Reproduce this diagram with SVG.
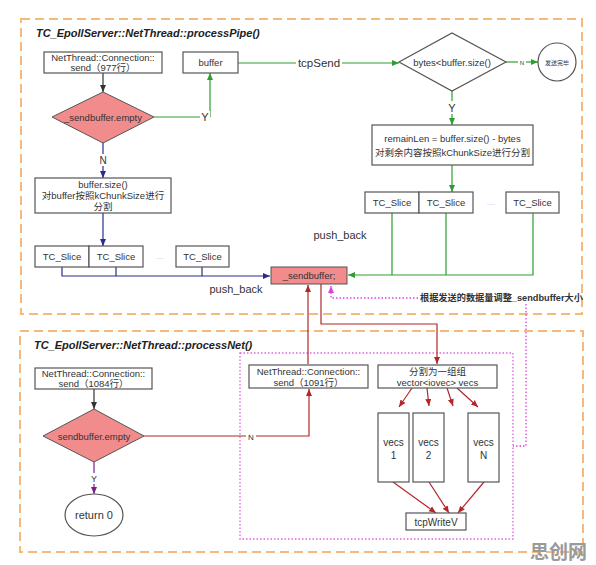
<svg xmlns="http://www.w3.org/2000/svg" width="596" height="565" viewBox="0 0 596 565">
<defs>
<style>
.bg{fill:#fff}
.frame{fill:none;stroke:#f5b97a;stroke-width:2;stroke-dasharray:9,5}
.zone{fill:none;stroke:#e060e0;stroke-width:1.3;stroke-dasharray:1.5,2}
.box{fill:#fff;stroke:#555;stroke-width:1.2}
.pink{fill:#f28c8c;stroke:#555;stroke-width:1}
.t{font-family:"Liberation Sans","Noto Sans CJK SC",sans-serif;font-size:9.5px;fill:#333;text-anchor:middle}
.title{font-family:"Liberation Sans","Noto Sans CJK SC",sans-serif;font-size:11px;font-weight:bold;font-style:italic;fill:#222}
.lbl{font-family:"Liberation Sans","Noto Sans CJK SC",sans-serif;font-size:11px;fill:#333;text-anchor:middle}
.c{fill:none;stroke-width:1.2}
.g{stroke:#2f9e2f}
.n{stroke:#2b2b8c}
.k{stroke:#333}
.r{stroke:#b3262b}
.p{stroke:#7a1f8a}
.m{stroke:#e040e0;stroke-width:1.3;stroke-dasharray:1.5,2}
</style>
<marker id="ag" markerWidth="8" markerHeight="8" refX="7" refY="4" orient="auto" markerUnits="userSpaceOnUse"><path d="M0,1 L7,4 L0,7 Z" fill="#2f9e2f"/></marker>
<marker id="an" markerWidth="8" markerHeight="8" refX="7" refY="4" orient="auto" markerUnits="userSpaceOnUse"><path d="M0,1 L7,4 L0,7 Z" fill="#2b2b8c"/></marker>
<marker id="ak" markerWidth="8" markerHeight="8" refX="7" refY="4" orient="auto" markerUnits="userSpaceOnUse"><path d="M0,1 L7,4 L0,7 Z" fill="#333"/></marker>
<marker id="ar" markerWidth="8" markerHeight="8" refX="7" refY="4" orient="auto" markerUnits="userSpaceOnUse"><path d="M0,1 L7,4 L0,7 Z" fill="#b3262b"/></marker>
<marker id="ap" markerWidth="8" markerHeight="8" refX="7" refY="4" orient="auto" markerUnits="userSpaceOnUse"><path d="M0,1 L7,4 L0,7 Z" fill="#7a1f8a"/></marker>
<marker id="am" markerWidth="8" markerHeight="8" refX="7" refY="4" orient="auto" markerUnits="userSpaceOnUse"><path d="M0,1 L7,4 L0,7 Z" fill="#e040e0"/></marker>
</defs>
<rect class="bg" x="0" y="0" width="596" height="565"/>

<g id="frame-pipe">
<rect class="frame" x="21" y="19" width="561" height="295"/>
<text class="title" x="36" y="37">TC_EpollServer::NetThread::processPipe()</text>
</g>
<g id="frame-net">
<rect class="frame" x="20" y="331" width="563" height="221"/>
<text class="title" x="34" y="349">TC_EpollServer::NetThread::processNet()</text>
</g>
<g id="zone-send">
<rect class="zone" x="240" y="353" width="273" height="186"/>
</g>

<g id="connectors">
<path class="c k" d="M103,73 V92" marker-end="url(#ak)"/>
<path class="c g" d="M154,117 H210 V73" marker-end="url(#ag)"/>
<path class="c g" d="M238,63 H399" marker-end="url(#ag)"/>
<path class="c g" d="M506,62 H538" marker-end="url(#ag)"/>
<path class="c g" d="M452,91 V125" marker-end="url(#ag)"/>
<path class="c g" d="M452,165 V192" marker-end="url(#ag)"/>
<path class="c g" d="M392,213 V275 M446,213 V275"/>
<path class="c g" d="M533,213 V275 H348" marker-end="url(#ag)"/>
<path class="c n" d="M103,143 V178" marker-end="url(#an)"/>
<path class="c n" d="M103,213 V246" marker-end="url(#an)"/>
<path class="c n" d="M116,267 V276 M202,267 V276"/>
<path class="c n" d="M62,267 V276 H270" marker-end="url(#an)"/>
<path class="c m" d="M418,298 H331 V286" marker-end="url(#am)"/>
<path class="c m" d="M526,304 V446 H513"/>
<path class="c r" d="M308,364 V285" marker-end="url(#ar)"/>
<path class="c r" d="M321,284 V324 H437 V364" marker-end="url(#ar)"/>
<path class="c k" d="M94,389 V409" marker-end="url(#ak)"/>
<path class="c r" d="M144,436 H309 V389" marker-end="url(#ar)"/>
<path class="c p" d="M94,462 V494" marker-end="url(#ap)"/>
<path class="c r" d="M412,388 L399,407" marker-end="url(#ar)"/>
<path class="c r" d="M427,388 L429,406" marker-end="url(#ar)"/>
<path class="c r" d="M447,388 L453,406" marker-end="url(#ar)"/>
<path class="c r" d="M457,388 L478,407" marker-end="url(#ar)"/>
<path class="c r" d="M393,482 L436,513" marker-end="url(#ar)"/>
<path class="c r" d="M429,482 L449,513" marker-end="url(#ar)"/>
<path class="c r" d="M484,482 L458,513" marker-end="url(#ar)"/>
<rect x="200" y="111" width="10" height="12" fill="#fff"/>
<text class="lbl" x="205" y="121">Y</text>
<rect x="296" y="56" width="46" height="13" fill="#fff"/>
<text class="lbl" x="319" y="67" style="font-size:11.5px">tcpSend</text>
<rect x="518" y="58" width="8" height="8" fill="#fff"/>
<text class="t" x="522" y="64.5" style="font-size:6px">N</text>
<rect x="447" y="101" width="10" height="13" fill="#fff"/>
<text class="lbl" x="452" y="112">Y</text>
<rect x="98" y="154" width="10" height="12" fill="#fff"/>
<text class="t" x="103" y="164" style="font-size:10px">N</text>
<text class="lbl" x="340" y="239">push_back</text>
<text class="lbl" x="236" y="293">push_back</text>
<text x="420" y="301" style="font-family:'Liberation Sans','Noto Sans CJK SC',sans-serif;font-size:9.2px;font-weight:bold;fill:#333">根据发送的数据量调整_sendbuffer大小</text>
<rect x="246" y="431" width="10" height="10" fill="#fff"/>
<text class="t" x="251" y="439.5" style="font-size:8px">N</text>
<rect x="89" y="473" width="10" height="11" fill="#fff"/>
<text class="t" x="94" y="482" style="font-size:9px">Y</text>
</g>

<g id="n-send977">
<rect class="box" x="44" y="52" width="118" height="21"/>
<text class="t" x="103" y="61">NetThread::Connection::</text>
<text class="t" x="103" y="71">send（977行）</text>
</g>
<g id="n-empty1">
<polygon class="pink" points="52,117 103,92 154,117 103,143"/>
<text class="t" x="103" y="120.5">_sendbuffer.empty</text>
</g>
<g id="n-buffer">
<rect class="box" x="183" y="52" width="55" height="21"/>
<text class="t" x="210.5" y="66">buffer</text>
</g>
<g id="n-bytes">
<polygon class="box" points="399,62 452,33 506,62 452,91"/>
<text class="t" x="452" y="65.5">bytes&lt;buffer.size()</text>
</g>
<g id="n-done">
<circle class="box" cx="557" cy="62" r="19"/>
<text class="t" x="557" y="64.5" style="font-size:6px">发送完毕</text>
</g>
<g id="n-remain">
<rect class="box" x="372" y="125" width="161" height="40"/>
<text class="t" x="452.5" y="142">remainLen = buffer.size() - bytes</text>
<text class="t" x="452.5" y="156">对剩余内容按照kChunkSize进行分割</text>
</g>
<g id="n-slices-right">
<rect class="box" x="365" y="192" width="54" height="21"/>
<text class="t" x="392" y="206">TC_Slice</text>
<rect class="box" x="419" y="192" width="54" height="21"/>
<text class="t" x="446" y="206">TC_Slice</text>
<text class="t" x="491" y="205" style="fill:#bbb;font-size:7px">....</text>
<rect class="box" x="506" y="192" width="53" height="21"/>
<text class="t" x="532.5" y="206">TC_Slice</text>
</g>
<g id="n-split-left">
<rect class="box" x="35" y="178" width="136" height="35"/>
<text class="t" x="103" y="188">buffer.size()</text>
<text class="t" x="103" y="199">对buffer按照kChunkSize进行</text>
<text class="t" x="103" y="210">分割</text>
</g>
<g id="n-slices-left">
<rect class="box" x="35" y="246" width="54" height="21"/>
<text class="t" x="62" y="260">TC_Slice</text>
<rect class="box" x="89" y="246" width="54" height="21"/>
<text class="t" x="116" y="260">TC_Slice</text>
<text class="t" x="160" y="259" style="fill:#bbb;font-size:7px">....</text>
<rect class="box" x="176" y="246" width="53" height="21"/>
<text class="t" x="202.5" y="260">TC_Slice</text>
</g>
<g id="n-sendbuffer">
<rect class="pink" x="271" y="267" width="76" height="17"/>
<text class="t" x="309" y="279">_sendbuffer;</text>
</g>
<g id="n-send1084">
<rect class="box" x="35" y="368" width="117" height="21"/>
<text class="t" x="93.5" y="377">NetThread::Connection::</text>
<text class="t" x="93.5" y="387">send（1084行）</text>
</g>
<g id="n-empty2">
<polygon class="pink" points="43,436 94,409 144,436 94,462"/>
<text class="t" x="94" y="439.5">sendbuffer.empty</text>
</g>
<g id="n-return">
<ellipse class="box" cx="94" cy="515" rx="29" ry="21"/>
<text class="lbl" x="94" y="519">return 0</text>
</g>
<g id="n-send1091">
<rect class="box" x="249" y="365" width="119" height="23"/>
<text class="t" x="308.5" y="374.5">NetThread::Connection::</text>
<text class="t" x="308.5" y="385.5">send（1091行）</text>
</g>
<g id="n-group">
<rect class="box" x="378" y="365" width="119" height="23"/>
<text class="t" x="437.5" y="374.5">分割为一组组</text>
<text class="t" x="437.5" y="385.5">vector&lt;iovec&gt; vecs</text>
</g>
<g id="n-vecs1">
<rect class="box" x="378" y="413" width="31" height="69"/>
<text class="t" x="393.5" y="446" style="font-size:10px">vecs</text>
<text class="t" x="393.5" y="459" style="font-size:10px">1</text>
</g>
<g id="n-vecs2">
<rect class="box" x="413" y="413" width="31" height="69"/>
<text class="t" x="428.5" y="446" style="font-size:10px">vecs</text>
<text class="t" x="428.5" y="459" style="font-size:10px">2</text>
</g>
<g id="n-vecsN">
<rect class="box" x="468" y="413" width="31" height="69"/>
<text class="t" x="483.5" y="446" style="font-size:10px">vecs</text>
<text class="t" x="483.5" y="459" style="font-size:10px">N</text>
</g>
<g id="n-tcpwritev">
<rect class="box" x="406" y="513" width="60" height="17"/>
<text class="t" x="436" y="525.5" style="font-size:10px">tcpWriteV</text>
</g>
<g id="watermark">
<text x="530" y="559" style="font-family:'Noto Sans CJK SC',sans-serif;font-size:19px;font-weight:bold;fill:#9a9a9a">思创网</text>
</g>
</svg>
